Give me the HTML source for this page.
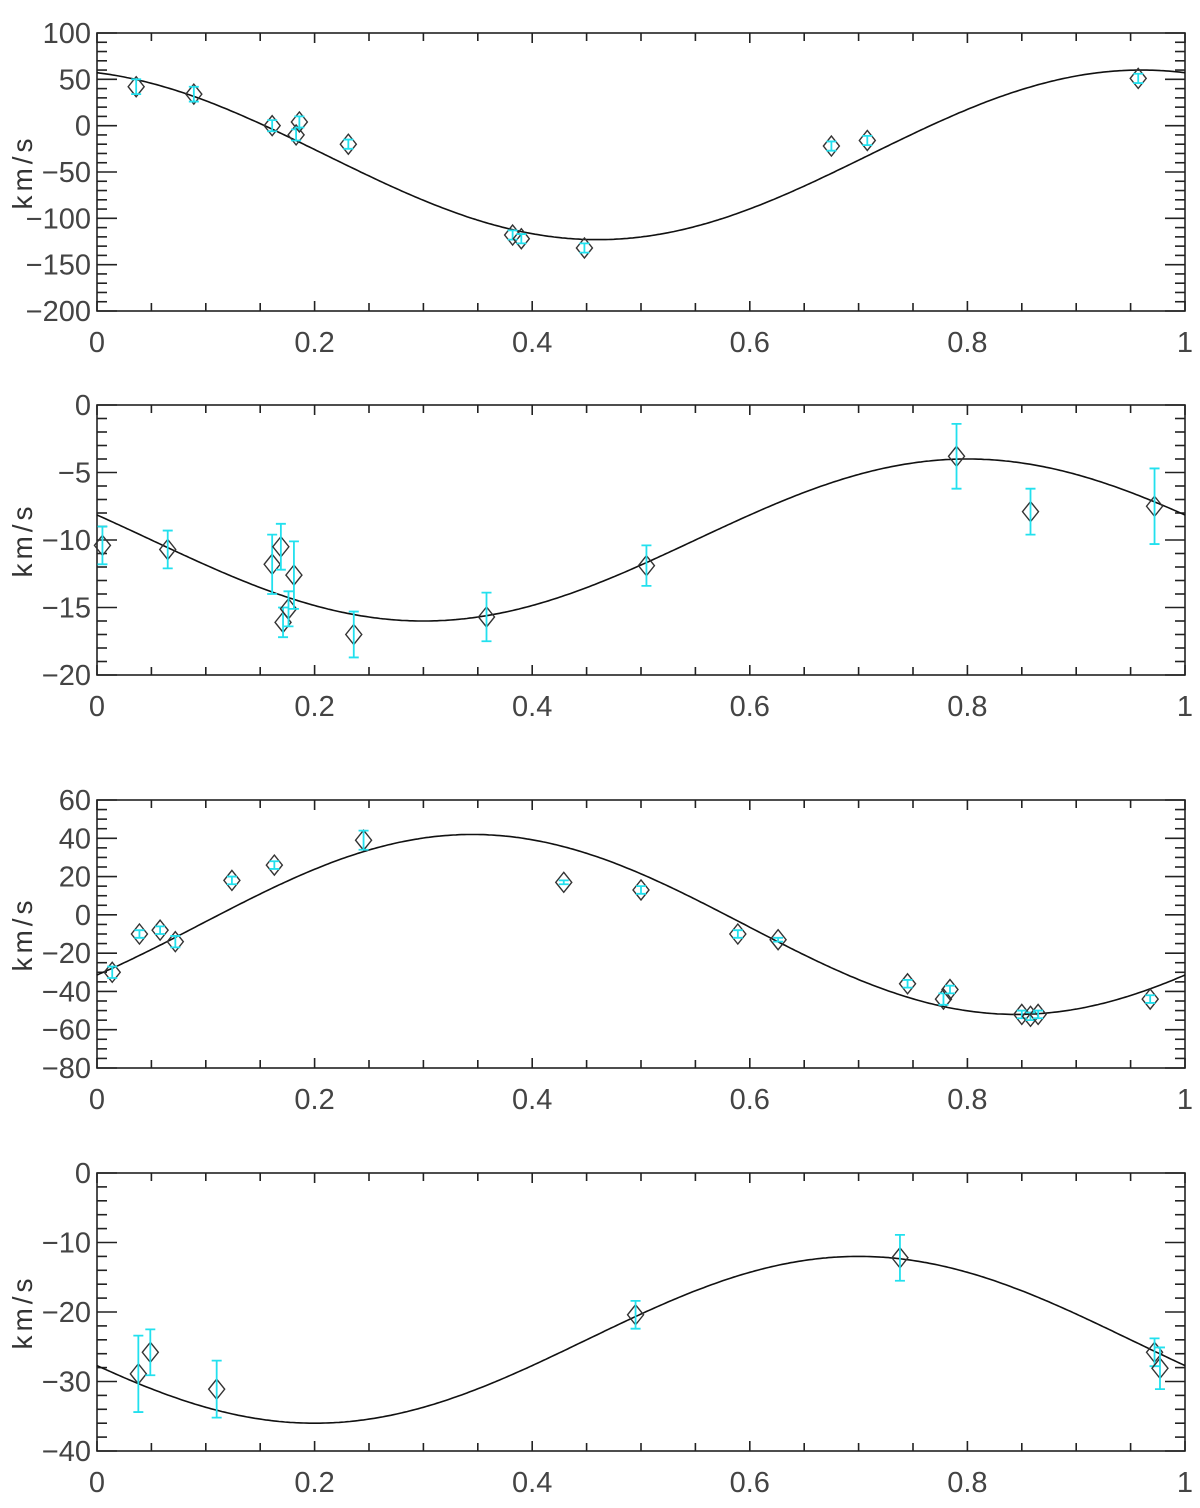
<!DOCTYPE html>
<html><head><meta charset="utf-8">
<style>
html,body{margin:0;padding:0;background:#fff;}
svg{display:block;font-family:"Liberation Sans",sans-serif;}
</style></head>
<body>
<svg id="chart" width="1200" height="1508" viewBox="0 0 1200 1508" xmlns="http://www.w3.org/2000/svg"></svg>
<script>
// Panel 1 data
const p1Phase = [0.036,0.089,0.161,0.183,0.186,0.231,0.382,0.390,0.448,0.675,0.708,0.957];
const p1Vel   = [42,34,0,-10,4,-20,-118,-122,-132,-22,-16,51];
const p1Err   = [8,8,6,6,6,5,5,5,5,5,5,5];
const p1YTicks = [100,50,0,-50,-100,-150,-200];
const p1Fit = [-31.5, 91.5, 0.96]; // systemic, amplitude, phase of max
// Panel 2 data
const p2Phase = [0.005,0.065,0.161,0.169,0.171,0.176,0.181,0.236,0.358,0.505,0.790,0.858,0.972];
const p2Vel   = [-10.4,-10.7,-11.8,-10.5,-16.1,-15.1,-12.6,-17.0,-15.7,-11.9,-3.8,-7.9,-7.5];
const p2Err   = [1.4,1.4,2.2,1.7,1.1,1.3,2.5,1.7,1.8,1.5,2.4,1.7,2.8];
const p2YTicks = [0,-5,-10,-15,-20];
const p2Fit = [-10, 6, 0.80];
// Panel 3 data
const p3Phase = [0.014,0.039,0.058,0.072,0.124,0.163,0.245,0.429,0.500,0.589,0.626,0.745,0.778,0.784,0.850,0.858,0.865,0.968];
const p3Vel   = [-30,-10,-8,-14,18,26,39,17,13,-10,-13,-36,-44,-39,-52,-53,-52,-44];
const p3Err   = [3,2,2,3,2,2,5,1,2,2,1,2,3,2,2,2,2,2];
const p3YTicks = [60,40,20,0,-20,-40,-60,-80];
const p3Fit = [-5, 47, 0.345];
// Panel 4 data
const p4Phase = [0.038,0.049,0.110,0.495,0.738,0.972,0.977];
const p4Vel   = [-28.9,-25.8,-31.1,-20.4,-12.2,-25.8,-28.1];
const p4Err   = [5.5,3.3,4.1,2.0,3.3,2.0,3.0];
const p4YTicks = [0,-10,-20,-30,-40];
const p4Fit = [-24, 12, 0.70];
const xTicks = [0,0.2,0.4,0.6,0.8,1];
const xTickLabels = ["0","0.2","0.4","0.6","0.8","1"];

const NS="http://www.w3.org/2000/svg";
const svg=document.getElementById('chart');
function mk(tag,attrs,parent){const e=document.createElementNS(NS,tag);for(const k in attrs)e.setAttribute(k,attrs[k]);(parent||svg).appendChild(e);return e;}

const L=97,R=1185;
function drawPanel(idx,top,bot,yTicks,yMinor,phase,vel,err,fit){
  const g=mk('g',{});
  
  
  const ymax=yTicks[0], ymin=yTicks[yTicks.length-1];
  const X=v=>L+(R-L)*v;
  const Y=v=>top+(ymax-v)/(ymax-ymin)*(bot-top);
  const box=mk('rect',{x:L,y:top,width:R-L,height:bot-top,fill:'none',stroke:'#222','stroke-width':1.6},g);
  
  
  for(let v=ymin; v<=ymax+1e-9; v+=yMinor){
    const major=yTicks.some(t=>Math.abs(t-v)<1e-6);
    const len=major?20:10, y=Y(v);
    mk('line',{x1:L,y1:y,x2:L+len,y2:y,stroke:'#222','stroke-width':1.6},g);
    mk('line',{x1:R,y1:y,x2:R-len,y2:y,stroke:'#222','stroke-width':1.6},g);
  }
  yTicks.forEach(t=>{
    const tx=mk('text',{x:L-6,y:Y(t)+10,'text-anchor':'end','font-size':29,fill:'#444'},g);
    tx.textContent=String(t).replace('-','\u2212');
    
    
  });
  for(let i=0;i<=20;i++){
    const v=i*0.05, major=(i%4===0), len=major?10:8, x=X(v);
    mk('line',{x1:x,y1:bot,x2:x,y2:bot-len,stroke:'#222','stroke-width':1.6},g);
    mk('line',{x1:x,y1:top,x2:x,y2:top+len,stroke:'#222','stroke-width':1.6},g);
  }
  xTicks.forEach((t,i)=>{
    const tx=mk('text',{x:X(t),y:bot+41,'text-anchor':'middle','font-size':29,fill:'#444'},g);
    tx.textContent=xTickLabels[i];
    
    
  });
  const yt=mk('text',{x:0,y:0,'text-anchor':'middle','font-size':28,'letter-spacing':4,fill:'#333',transform:`translate(32,${(top+bot)/2}) rotate(-90)`},g);
  yt.textContent='km/s';
  
  
  let d='';
  for(let i=0;i<=400;i++){const p=i/400;const v=fit[0]+fit[1]*Math.cos(2*Math.PI*(p-fit[2]));d+=(i?'L':'M')+X(p).toFixed(1)+' '+Y(v).toFixed(1);}
  const c=mk('path',{d:d,fill:'none',stroke:'#111','stroke-width':1.6},g);
  
  
  phase.forEach((p,i)=>{
    const x=X(p), y=Y(vel[i]), y1=Y(vel[i]+err[i]), y2=Y(vel[i]-err[i]);
    const dm=mk('path',{d:`M${x} ${y-10}L${x+8} ${y}L${x} ${y+10}L${x-8} ${y}Z`,fill:'none',stroke:'#333','stroke-width':1.4},g);
    
    
    const eb=mk('path',{d:`M${x} ${y1}L${x} ${y2}M${x-5} ${y1}L${x+5} ${y1}M${x-5} ${y2}L${x+5} ${y2}`,stroke:'#22e0ee','stroke-width':1.8,fill:'none'},g);
    
    
  });
}
drawPanel(1,33,311,p1YTicks,10,p1Phase,p1Vel,p1Err,p1Fit);
drawPanel(2,405,675,p2YTicks,1,p2Phase,p2Vel,p2Err,p2Fit);
drawPanel(3,800,1068,p3YTicks,5,p3Phase,p3Vel,p3Err,p3Fit);
drawPanel(4,1173,1451,p4YTicks,2,p4Phase,p4Vel,p4Err,p4Fit);
</script>
</body></html>
